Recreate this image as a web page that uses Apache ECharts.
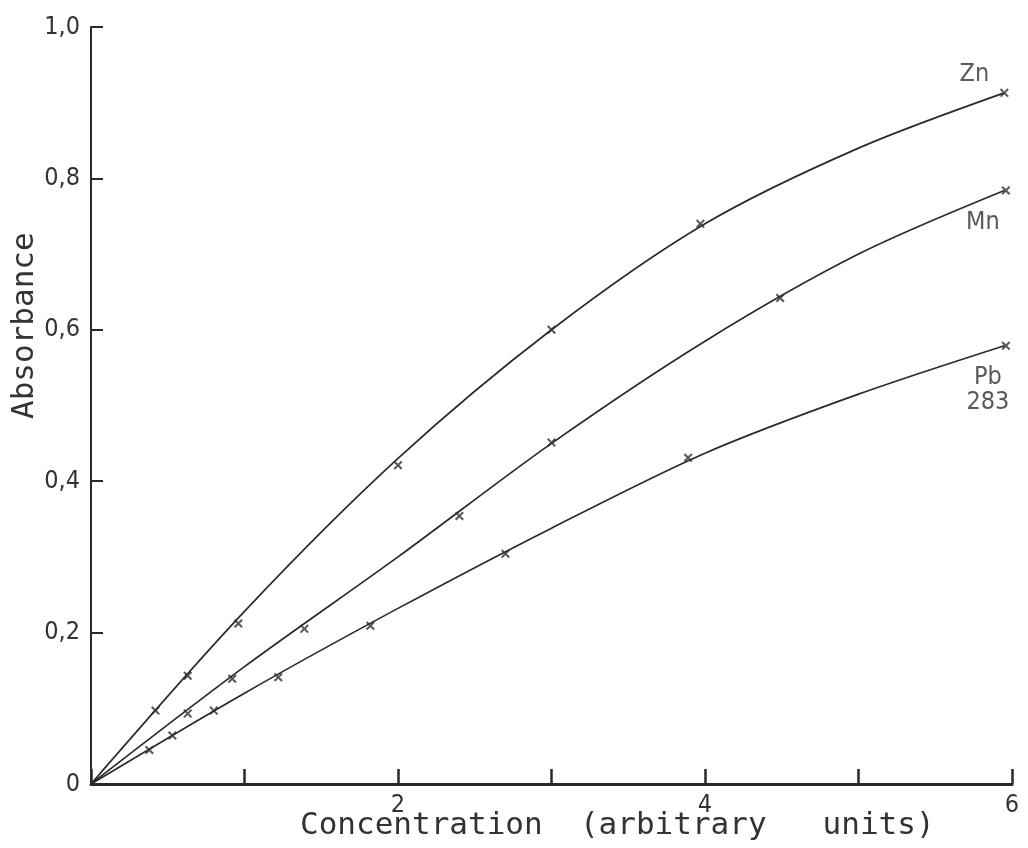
<!DOCTYPE html>
<html>
<head>
<meta charset="utf-8">
<script src="https://cdn.jsdelivr.net/npm/echarts@6/dist/echarts.min.js"></script>
<style>html,body{margin:0;padding:0;background:#fff;}#c{width:1028px;height:848px;}</style>
</head>
<body>
<div id="c"></div>
<script>
// Tick values
const xTickValues = [0, 1, 2, 3, 4, 5, 6];
const xLabelShown = [2, 4, 6];
const yTickValues = [0, 0.2, 0.4, 0.6, 0.8, 1.0];

// Measured points (crosses)
const znX = [0.42, 0.63, 0.96, 2.00, 3.00, 3.97, 5.95];
const znY = [0.097, 0.143, 0.212, 0.421, 0.600, 0.740, 0.913];
const mnX = [0.63, 0.92, 1.39, 2.40, 3.00, 4.49, 5.96];
const mnY = [0.093, 0.139, 0.205, 0.354, 0.451, 0.642, 0.784];
const pbX = [0.38, 0.53, 0.80, 1.22, 1.82, 2.70, 3.89, 5.96];
const pbY = [0.045, 0.064, 0.097, 0.141, 0.209, 0.304, 0.431, 0.579];

// Drawn calibration curves
const curveX = [0, 1, 2, 3, 4, 5, 5.95];
const znCurve = [0, 0.228, 0.430, 0.600, 0.740, 0.840, 0.913];
const mnCurve = [0, 0.155, 0.300, 0.450, 0.585, 0.700, 0.784];
const pbCurve = [0, 0.120, 0.232, 0.338, 0.437, 0.515, 0.579];

// Series labels
const seriesNames = ['Zn', 'Mn', 'Pb\n283'];

const ink = '#2a2a2a';
const labelFont = "'DejaVu Sans Condensed', 'Liberation Sans Narrow', 'Roboto', sans-serif";
const monoFont = "'DejaVu Sans Mono', 'Liberation Mono', monospace";
const cross = 'path://M0,1.6L1.6,0L5,3.4L8.4,0L10,1.6L6.6,5L10,8.4L8.4,10L5,6.6L1.6,10L0,8.4L3.4,5Z';

function zip(xs, ys) { return xs.map((x, i) => [x, ys[i]]); }
function markerData(xs, ys, name, offset) {
  const d = zip(xs, ys).map(p => ({ value: p }));
  d[d.length - 1].label = {
    show: true, formatter: name, position: 'inside', offset: offset,
    color: '#2f2f2f', fontSize: 25, fontFamily: labelFont, lineHeight: 25, align: 'center'
  };
  return d;
}
function curve(ys) {
  return {
    type: 'line', data: zip(curveX, ys), smooth: 0.3,
    showSymbol: false, symbol: 'none', lineStyle: { color: ink, width: 1.7 }, z: 2, silent: true
  };
}
function marks(data) {
  return {
    type: 'scatter', data: data, symbol: cross, symbolSize: 9,
    itemStyle: { color: '#2f2f2f' }, z: 3, silent: true
  };
}

const chart = echarts.init(document.getElementById('c'), null, { renderer: 'canvas' });
chart.setOption({
  animation: false,
  backgroundColor: '#ffffff',
  grid: { left: 91, right: 16, top: 27, bottom: 64, containLabel: false },
  xAxis: {
    type: 'value', min: xTickValues[0], max: xTickValues[xTickValues.length - 1], interval: 1,
    axisLine: { show: true, lineStyle: { color: ink, width: 3 } },
    axisTick: { show: true, inside: true, length: 15, lineStyle: { color: ink, width: 2.5 } },
    axisLabel: {
      margin: 9, color: '#333', fontSize: 25, fontFamily: labelFont,
      formatter: v => xLabelShown.includes(v) ? String(v) : ''
    },
    splitLine: { show: false }
  },
  yAxis: {
    type: 'value', min: yTickValues[0], max: yTickValues[yTickValues.length - 1], interval: 0.2,
    axisLine: { show: true, onZero: false, lineStyle: { color: ink, width: 2 } },
    axisTick: { show: true, inside: true, length: 12, lineStyle: { color: ink, width: 2 } },
    axisLabel: {
      margin: 11, color: '#333', fontSize: 25, fontFamily: labelFont,
      formatter: v => v === 0 ? '0' : v.toFixed(1).replace('.', ',')
    },
    splitLine: { show: false }
  },
  graphic: [
    {
      type: 'text', left: 300, top: 810,
      style: { text: 'Concentration  (arbitrary   units)', fill: '#333', font: "31px " + monoFont }
    },
    {
      type: 'text', x: 9, y: 419, rotation: Math.PI / 2,
      style: { text: 'Absorbance', fill: '#333', font: "31px " + monoFont, textAlign: 'left', textVerticalAlign: 'top' }
    }
  ],
  series: [
    curve(znCurve), curve(mnCurve), curve(pbCurve),
    marks(markerData(znX, znY, seriesNames[0], [-30, -18])),
    marks(markerData(mnX, mnY, seriesNames[1], [-23, 32])),
    marks(markerData(pbX, pbY, seriesNames[2], [-18, 44]))
  ]
});
</script>
</body>
</html>
